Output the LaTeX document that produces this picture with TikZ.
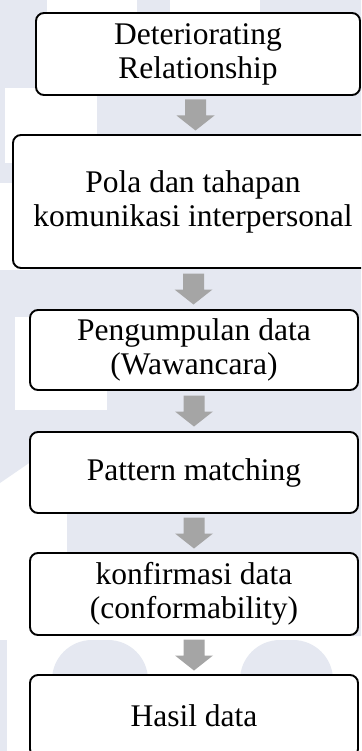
\documentclass[tikz,border=0pt]{standalone}
\usepackage{fontspec}
\setmainfont{Liberation Serif}
\usetikzlibrary{calc}
\definecolor{wmgray}{HTML}{E5E8F1}
\definecolor{arrowgray}{HTML}{A5A5A5}
\tikzset{
  stage/.style={draw=black, line width=1.9pt, rounded corners=8pt, fill=white,
    align=center, inner sep=0pt, font=\fontsize{31.5}{34}\selectfont},
}
% grey block arrow pointing down, centred on a named coordinate
\newcommand\blockdown[1]{%
  \fill[arrowgray] (#1) ++(-10.5,-15.5) -- ++(21,0) -- ++(0,16) -- ++(8.5,0)
    -- ++(-19,15) -- ++(-19,-15) -- ++(8.5,0) -- cycle;}
\begin{document}
\begin{tikzpicture}[x=1pt,y=-1pt]
\useasboundingbox (0,0) rectangle (361,751);
\begin{scope}
\clip (0,0) rectangle (361,751);
% faint background pattern
\fill[white] (0,0) rectangle (361,751);
\fill[wmgray] (0,0) -- (361,0) -- (361,636) -- (67,636) -- (67,437) -- (0,483) -- cycle;
\fill[white] (47,0) rectangle (137,13);
\fill[white] (170,0) rectangle (260,13);
\fill[white] (5,88) rectangle (97,163);
\fill[white] (0,183) rectangle (30,270);
\fill[white] (15,317) rectangle (107,410);
\fill[wmgray] (0,640) rectangle (7,760);
\fill[wmgray, rounded corners=40pt] (52,780) -- (52,640) -- (148,640) -- (148,780) -- cycle;
\fill[wmgray, rounded corners=40pt] (240,780) -- (240,640) -- (333,640) -- (333,780) -- cycle;

% stages
\node[stage, minimum width=324pt, minimum height=82pt] (b1) at (198,54)
  {Deteriorating\\Relationship};
\node[stage, minimum width=360pt, minimum height=133pt] (b2) at (193,201.5)
  {Pola dan tahapan\\komunikasi interpersonal};
\node[stage, minimum width=328pt, minimum height=80pt] (b3) at (194,350)
  {Pengumpulan data\\(Wawancara)};
\node[stage, minimum width=328pt, minimum height=81pt] (b4) at (194,472.5)
  {Pattern matching};
\node[stage, minimum width=328pt, minimum height=82pt] (b5) at (194,594)
  {konfirmasi data\\(conformability)};
\node[stage, minimum width=328pt, minimum height=82pt] (b6) at (194,716)
  {Hasil data};

% arrows between stages
\coordinate (a1) at ($(b1.south)!0.5!(b2.north)$);
\coordinate (a2) at ($(b2.south)!0.5!(b3.north)$);
\coordinate (a3) at ($(b3.south)!0.5!(b4.north)$);
\coordinate (a4) at ($(b4.south)!0.5!(b5.north)$);
\coordinate (a5) at ($(b5.south)!0.5!(b6.north)$);
\blockdown{a1}
\blockdown{a2}
\blockdown{a3}
\blockdown{a4}
\blockdown{a5}
\end{scope}
\end{tikzpicture}
\end{document}
